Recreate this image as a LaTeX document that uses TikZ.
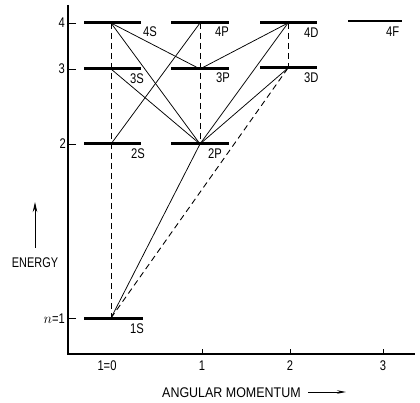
\documentclass[tikz,border=0pt]{standalone}
\usepackage{fontspec}
\usepackage{graphicx}
\setmainfont{Liberation Sans}
\usetikzlibrary{arrows.meta}
\newcommand{\lb}[2][0.8]{\scalebox{#1}[1]{#2}}
\begin{document}
\begin{tikzpicture}[x=1pt,y=-1pt,
  bar/.style={fill=black,inner sep=0pt,minimum width=57pt,minimum height=3pt},
  lvl/.style={font=\fontsize{14}{14}\selectfont,inner sep=0pt,anchor=base west},
  tr/.style={line width=0.75pt},
  fb/.style={line width=0.9pt,dash pattern=on 6pt off 4pt},
  ax/.style={line width=1.1pt},
  txt/.style={font=\fontsize{14}{14}\selectfont,inner sep=0pt}]
\useasboundingbox (0,0) rectangle (420,403);
% axes
\coordinate (top) at (68,5);
\coordinate (org) at (68,354);
\coordinate (xend) at (415,354);
\draw[ax] (top) -- (org) -- (xend);
% energy levels
\node[bar] (s4) at (112.5,23) {};
\node[bar] (s3) at (112.5,69) {};
\node[bar] (s2) at (112.5,144) {};
\node[bar,minimum width=59pt] (s1) at (113.5,318) {};
\node[bar,minimum width=58pt] (p4) at (200,23) {};
\node[bar,minimum width=58pt] (p3) at (200,69) {};
\node[bar,minimum width=58pt] (p2) at (200,144) {};
\node[bar] (d4) at (288.5,23) {};
\node[bar] (d3) at (288.5,68) {};
\node[bar,minimum width=54pt,minimum height=2.6pt] (f4) at (375,21) {};
% connection points
\coordinate (S4) at (111,23);
\coordinate (S3) at (111,69);
\coordinate (S2) at (111,144);
\coordinate (S1) at (111,318);
\coordinate (P4) at (200,23);
\coordinate (P3) at (200,69);
\coordinate (P2) at (200,144);
\coordinate (D4) at (288,23);
\coordinate (D3) at (288,68);
% dashed verticals
\draw[fb] (S4) -- (S1);
\draw[fb] (P4) -- (P2);
\draw[fb] (D4) -- (D3);
% solid transitions
\draw[tr] (S4) -- (P3);
\draw[tr] (S4) -- (P2);
\draw[tr] (S3) -- (P2);
\draw[tr] (S2) -- (P4);
\draw[tr] (P3) -- (D4);
\draw[tr] (P2) -- (D4);
\draw[tr] (P2) -- (D3);
\draw[tr] (S1) -- (P2);
\draw[fb] (S1) -- (D3);
% level labels
\node[lvl] (l4s) at (143,37) {\lb{4S}};
\node[lvl] (l3s) at (130,84) {\lb{3S}};
\node[lvl] (l2s) at (131,159) {\lb{2S}};
\node[lvl] (l1s) at (130,333) {\lb{1S}};
\node[lvl] (l4p) at (215,37) {\lb{4P}};
\node[lvl] (l3p) at (216,83) {\lb{3P}};
\node[lvl] (l2p) at (208,159) {\lb{2P}};
\node[lvl] (l4d) at (304,38) {\lb{4D}};
\node[lvl] (l3d) at (304,83) {\lb{3D}};
\node[lvl] (l4f) at (386,37) {\lb{4F}};
% y ticks
\coordinate (ty4) at (76,23);
\coordinate (ty3) at (76,69);
\coordinate (ty2) at (76,144);
\coordinate (ty1) at (76,318);
\draw[line width=0.9pt] (ty4) -- ++(-7,0);
\draw[line width=0.9pt] (ty3) -- ++(-7,0);
\draw[line width=0.9pt] (ty2) -- ++(-7,0);
\draw[line width=0.9pt] (ty1) -- ++(-7,0);
\node[txt,anchor=base east] (y4) at (65,28) {\lb{4}};
\node[txt,anchor=base east] (y3) at (65,74) {\lb{3}};
\node[txt,anchor=base east] (y2) at (66,149) {\lb{2}};
\node[txt,anchor=base east] (y1) at (65,323) {$n$\lb{=1}};
% x ticks
\coordinate (tx1) at (202,354);
\coordinate (tx2) at (290,354);
\coordinate (tx3) at (383,354);
\draw[line width=0.9pt] (tx1) -- ++(0,-5);
\draw[line width=0.9pt] (tx2) -- ++(0,-5);
\draw[line width=0.9pt] (tx3) -- ++(0,-5);
\node[txt,anchor=base] (x0) at (107,370) {\lb{1=0}};
\node[txt,anchor=base] (x1) at (202,370) {\lb{1}};
\node[txt,anchor=base] (x2) at (290,370) {\lb{2}};
\node[txt,anchor=base] (x3) at (383,370) {\lb{3}};
% axis titles
\node[txt,anchor=base west] (am) at (162,397) {\lb[0.89]{ANGULAR MOMENTUM}};
\coordinate (ama) at (308,392);
\coordinate (amb) at (346,392);
\draw[line width=0.8pt,-{Stealth[length=9pt,width=3.5pt]}] (ama) -- (amb);
\node[txt,anchor=base] (en) at (35,267) {\lb[0.78]{ENERGY}};
\coordinate (ea) at (35,248);
\coordinate (eb) at (35,202);
\draw[line width=0.9pt,-{Stealth[length=10pt,width=4.5pt]}] (ea) -- (eb);
\end{tikzpicture}
\end{document}
